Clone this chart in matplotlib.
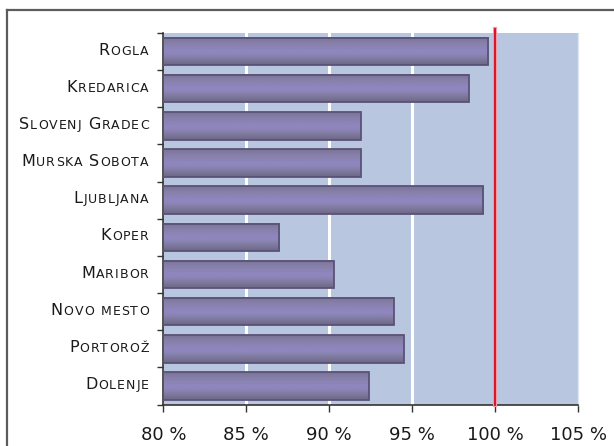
import numpy as np
import matplotlib
matplotlib.use("Agg")
import matplotlib.pyplot as plt
from matplotlib.colors import LinearSegmentedColormap
from matplotlib.lines import Line2D
from matplotlib.offsetbox import TextArea, DrawingArea, HPacker, AnnotationBbox

# Stations (top to bottom) and their share, in percent
stations = ["Rogla", "Kredarica", "Slovenj Gradec", "Murska Sobota", "Ljubljana",
            "Koper", "Maribor", "Novo mesto", "Portorož", "Dolenje"]
shares = [99.6, 98.4, 91.9, 91.9, 99.3, 87.0, 90.3, 93.9, 94.5, 92.4]
x_ticks = [80, 85, 90, 95, 100, 105]
x_tick_labels = ["80 %", "85 %", "90 %", "95 %", "100 %", "105 %"]
reference_level = 100

W, H = 614, 446
fig = plt.figure(figsize=(W / 100, H / 100), dpi=100)
fig.patch.set_facecolor("white")

ax = fig.add_axes([163.3 / W, 1 - 404.5 / H, (578.0 - 163.3) / W, (404.5 - 33.0) / H])
ax.set_facecolor("#b8c7df")

n = len(stations)
y = np.arange(n)
bar_h = 0.74

# vertical bands between the plot columns
for xv in [85, 90, 95]:
    ax.axvline(xv, color="white", lw=2.2, zorder=1)

# bar fill gradient, from the top edge of a bar down to its bottom edge
grad_cmap = LinearSegmentedColormap.from_list(
    "bar_grad",
    [(0.0, "#7a7497"), (0.2, "#8680a8"), (0.45, "#8e86bd"),
     (0.6, "#8e86bc"), (0.8, "#7f7a9c"), (1.0, "#6c6788")])
grad = np.linspace(0, 1, 64).reshape(-1, 1)

for yi, v in zip(y, shares):
    ax.imshow(grad, cmap=grad_cmap, aspect="auto", origin="upper",
              extent=[80, v, yi + bar_h / 2, yi - bar_h / 2],
              interpolation="bilinear", zorder=2)

ax.barh(y, np.array(shares) - 80, left=80, height=bar_h,
        facecolor="none", edgecolor="#5a5278", linewidth=1.3, zorder=3)

# reference line at 100 %, reaching a little above the plot area
ax.axvline(reference_level, ymin=0, ymax=1 + 4 / 371, color="#f29aa6", lw=3.0,
           zorder=4, clip_on=False)
ax.axvline(reference_level, ymin=0, ymax=1 + 4 / 371, color="#d8142a", lw=1.4,
           zorder=5, clip_on=False)

ax.set_xlim(80, 105)
ax.set_ylim(n - 0.5, -0.5)

ax.set_xticks(x_ticks)
ax.set_xticklabels(x_tick_labels, fontsize=13, color="#1a1a1a")
ax.tick_params(axis="x", direction="out", length=5, width=1.0, color="#333333", pad=10.5)

ax.set_yticks(np.arange(n + 1) - 0.5)
ax.set_yticklabels([])
ax.tick_params(axis="y", direction="out", length=4, width=1.0, color="#333333")

ax.spines["top"].set_visible(False)
ax.spines["right"].set_color("#dfe6f2")
ax.spines["right"].set_linewidth(1.0)
ax.spines["left"].set_color("#333333")
ax.spines["bottom"].set_color("#333333")
ax.spines["left"].set_linewidth(1.2)
ax.spines["bottom"].set_linewidth(1.2)


def small_caps_label(text, big=11.5, small=9.0, color="#1a1a1a"):
    """Build a small-caps label: first letter of each word large, the rest small."""
    parts = []
    for word_idx, word in enumerate(text.split(" ")):
        if word_idx > 0:
            parts.append(DrawingArea(3.5, 0))
        for ci, ch in enumerate(word):
            size = big if (ci == 0 and ch.isupper()) else small
            parts.append(TextArea(ch.upper(), textprops=dict(fontsize=size, color=color)))
    return HPacker(children=parts, align="baseline", pad=0, sep=0.7)


for yi, name in zip(y, stations):
    box = small_caps_label(name)
    ab = AnnotationBbox(box, xy=(0, yi), xycoords=("axes fraction", "data"),
                        xybox=(-10.5, 1.0), boxcoords="offset points",
                        box_alignment=(1, 0.5), frameon=False, pad=0,
                        annotation_clip=False)
    ax.add_artist(ab)

# frame lines along the top and left of the figure
fig.add_artist(Line2D([7 / W, 1.0], [1 - 10 / H, 1 - 10 / H], transform=fig.transFigure,
                      color="#5c5c5c", lw=1.6))
fig.add_artist(Line2D([7 / W, 7 / W], [0.0, 1 - 10 / H], transform=fig.transFigure,
                      color="#5c5c5c", lw=1.6))

fig.savefig("out.png", dpi=100, facecolor="white")
